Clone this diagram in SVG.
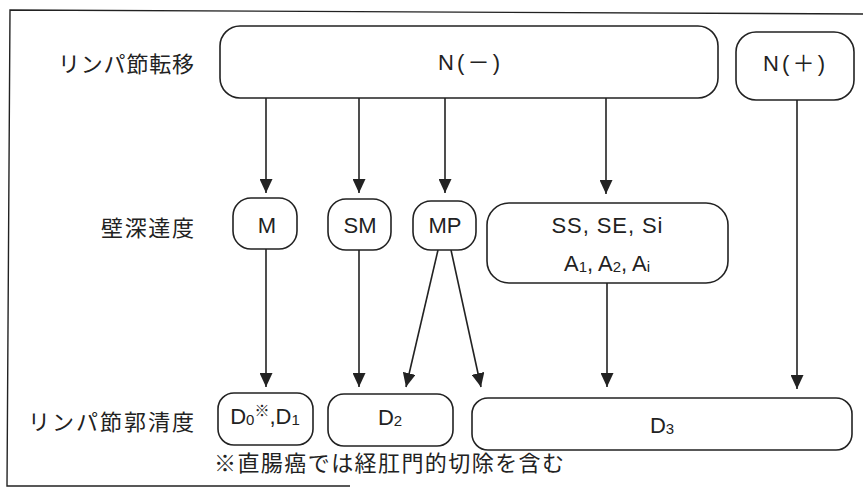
<svg xmlns="http://www.w3.org/2000/svg" width="863" height="501" viewBox="0 0 863 501">
<defs>
<marker id="ah" viewBox="0 0 14 13" refX="14" refY="6.5" markerWidth="14" markerHeight="13" markerUnits="userSpaceOnUse" orient="auto">
<path d="M0,0 L14,6.5 L0,13 Z" fill="#222"/>
</marker>
</defs>
<style>
.box{fill:#fff;stroke:#222;stroke-width:1.6}
.t{font-family:"Liberation Sans","Noto Sans CJK JP",sans-serif;font-size:22px;fill:#222;text-anchor:middle;dominant-baseline:central}
.lab{font-family:"Noto Sans CJK JP","Liberation Sans",sans-serif;font-size:22px;fill:#222;text-anchor:end;dominant-baseline:central}
.fn{font-family:"Noto Sans CJK JP","Liberation Sans",sans-serif;font-size:22px;fill:#222;dominant-baseline:central}
.c{stroke:#222;stroke-width:1.6;fill:none;marker-end:url(#ah)}
.fr{stroke:#222;stroke-width:1.4;fill:none}
.sub{font-size:15px}
</style>
<path class="fr" d="M863,14 L10,10 L7,486 L350,486"/>
<g id="labels">
<text class="lab" x="194" y="62" textLength="136" lengthAdjust="spacing">リンパ節転移</text>
<text class="lab" x="194" y="226" textLength="93" lengthAdjust="spacing">壁深達度</text>
<text class="lab" x="194" y="420" textLength="166" lengthAdjust="spacing">リンパ節郭清度</text>
<text class="fn" x="214" y="461" textLength="350" lengthAdjust="spacing">※直腸癌では経肛門的切除を含む</text>
</g>
<g id="connectors">
<line class="c" x1="266" y1="98" x2="266" y2="193"/>
<line class="c" x1="359" y1="98" x2="359" y2="193"/>
<line class="c" x1="445" y1="98" x2="445" y2="193"/>
<line class="c" x1="606" y1="98" x2="606" y2="194"/>
<line class="c" x1="797" y1="100" x2="797" y2="389"/>
<line class="c" x1="266" y1="249" x2="266" y2="387"/>
<line class="c" x1="359" y1="250" x2="359" y2="387"/>
<line class="c" x1="438" y1="250" x2="406" y2="387"/>
<line class="c" x1="451" y1="250" x2="481" y2="387"/>
<line class="c" x1="607" y1="283" x2="607" y2="387"/>
</g>
<g id="n_minus"><rect class="box" x="220" y="26" width="498" height="72" rx="20"/><text class="t" x="469" y="62" textLength="62" lengthAdjust="spacing">N(－)</text></g>
<g id="n_plus"><rect class="box" x="736" y="32" width="118" height="68" rx="20"/><text class="t" x="794" y="63" textLength="62" lengthAdjust="spacing">N(＋)</text></g>
<g id="m"><rect class="box" x="233" y="198" width="64" height="51" rx="18"/><text class="t" x="267" y="225">M</text></g>
<g id="sm"><rect class="box" x="328" y="199" width="63" height="51" rx="18"/><text class="t" x="360" y="225">SM</text></g>
<g id="mp"><rect class="box" x="413" y="201" width="63" height="49" rx="18"/><text class="t" x="445" y="225">MP</text></g>
<g id="ss"><rect class="box" x="487" y="203" width="241" height="80" rx="22"/><text class="t" x="607" y="225" textLength="111" lengthAdjust="spacing">SS, SE, Si</text><text class="t" x="607" y="263">A<tspan class="sub" dy="3">1</tspan><tspan dy="-3">,  A</tspan><tspan class="sub" dy="3">2</tspan><tspan dy="-3">,  A</tspan><tspan class="sub" dy="3">i</tspan></text></g>
<g id="d01"><rect class="box" x="218" y="393" width="95" height="52" rx="16"/><text class="t" x="265" y="416">D<tspan class="sub" dy="3">0</tspan><tspan class="sub" dy="-9">※</tspan><tspan dy="6">,D</tspan><tspan class="sub" dy="3">1</tspan></text></g>
<g id="d2"><rect class="box" x="328" y="394" width="125" height="52" rx="16"/><text class="t" x="390" y="417">D<tspan class="sub" dy="3">2</tspan></text></g>
<g id="d3"><rect class="box" x="472" y="398" width="380" height="52" rx="16"/><text class="t" x="662" y="425">D<tspan class="sub" dy="3">3</tspan></text></g>
</svg>
